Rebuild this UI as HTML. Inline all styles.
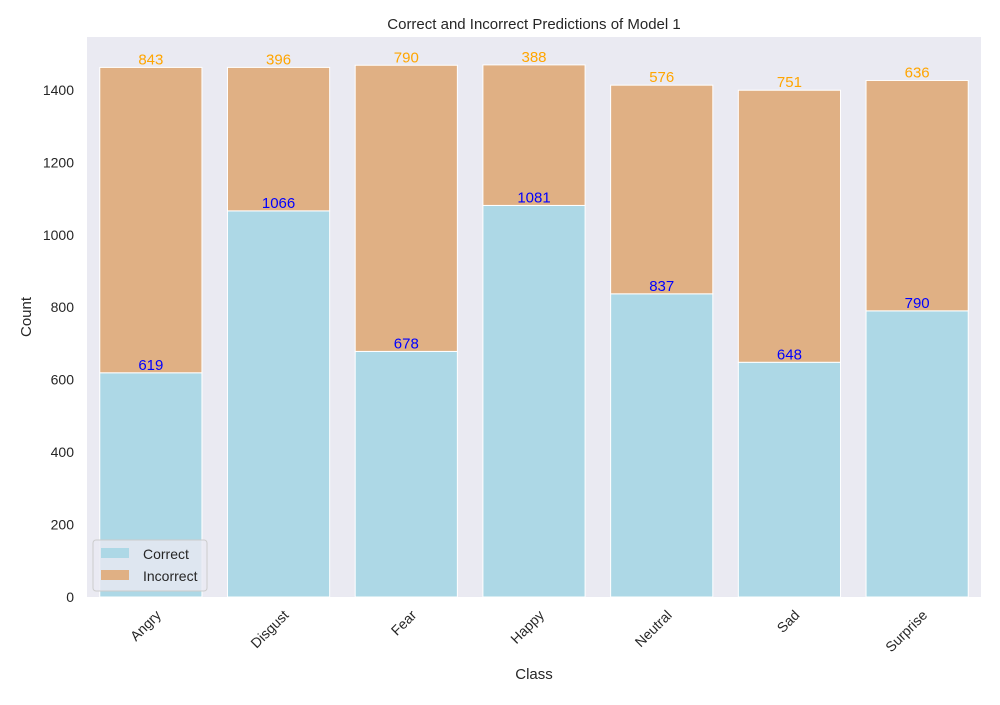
<!DOCTYPE html>
<html><head><meta charset="utf-8"><style>
body{margin:0;background:#fff;font-family:"Liberation Sans",Arial,sans-serif}
svg text{font-family:"Liberation Sans",Arial,sans-serif}
</style></head><body>
<svg id="c" width="1000" height="700" xmlns="http://www.w3.org/2000/svg">
<rect x="87" y="37" width="894" height="560" fill="#eaeaf2"/>
<text x="534" y="29" font-size="15" text-anchor="middle" fill="#262626">Correct and Incorrect Predictions of Model 1</text>
<text x="534" y="679" font-size="15" text-anchor="middle" fill="#262626">Class</text>
<text x="31" y="317" font-size="15" text-anchor="middle" fill="#262626" transform="rotate(-90 31 317)">Count</text>
<g id="bars"></g><g id="ticks"></g>
<g>
<rect x="93" y="540" width="114" height="51" rx="3" fill="#eaeaf2" stroke="#cccccc" fill-opacity="0.8"/>
<rect x="101" y="548" width="28" height="10" fill="#add8e6"/>
<text x="143" y="559" font-size="14" fill="#262626">Correct</text>
<rect x="101" y="570" width="28" height="10" fill="#e0b084"/>
<text x="143" y="581" font-size="14" fill="#262626">Incorrect</text>
</g>
</svg>
<script>
const categories=["Angry","Disgust","Fear","Happy","Neutral","Sad","Surprise"];
const correct=[619,1066,678,1081,837,648,790];
const incorrect=[843,396,790,388,576,751,636];
const yTicks=[0,200,400,600,800,1000,1200,1400];
const L=87,R=981,T=37,B=597,YMAX=1546;
const ns="http://www.w3.org/2000/svg";
const y=v=>B-v/YMAX*(B-T);
const band=(R-L)/categories.length;
const xc=i=>L+band*(i+0.5);
const bw=band*0.8;
function el(t,a,p){const e=document.createElementNS(ns,t);for(const k in a)e.setAttribute(k,a[k]);p.appendChild(e);return e;}
const g=document.getElementById('bars'),tk=document.getElementById('ticks');
yTicks.forEach(v=>{const t=el('text',{x:L-13,y:y(v)+5,'font-size':14,'text-anchor':'end',fill:'#262626'},tk);t.textContent=v;

});
categories.forEach((c,i)=>{
const x0=xc(i)-bw/2;
const b1=el('rect',{x:x0,y:y(correct[i]),width:bw,height:B-y(correct[i]),fill:'#add8e6',stroke:'#fff','stroke-width':1},g);


const tot=correct[i]+incorrect[i];
const b2=el('rect',{x:x0,y:y(tot),width:bw,height:y(correct[i])-y(tot),fill:'#e0b084',stroke:'#fff','stroke-width':1},g);


const l1=el('text',{x:xc(i),y:y(correct[i])-3,'font-size':15,'text-anchor':'middle',fill:'#0000ff'},g);l1.textContent=correct[i];


const l2=el('text',{x:xc(i),y:y(tot)-3,'font-size':15,'text-anchor':'middle',fill:'#ffa500'},g);l2.textContent=incorrect[i];


const ax=xc(i)+11, ay=B+19;
const tx=el('text',{x:ax,y:ay,'font-size':14,'text-anchor':'end',fill:'#262626',transform:`rotate(-45 ${ax} ${ay})`},tk);tx.textContent=c;


});
</script>
</body></html>
